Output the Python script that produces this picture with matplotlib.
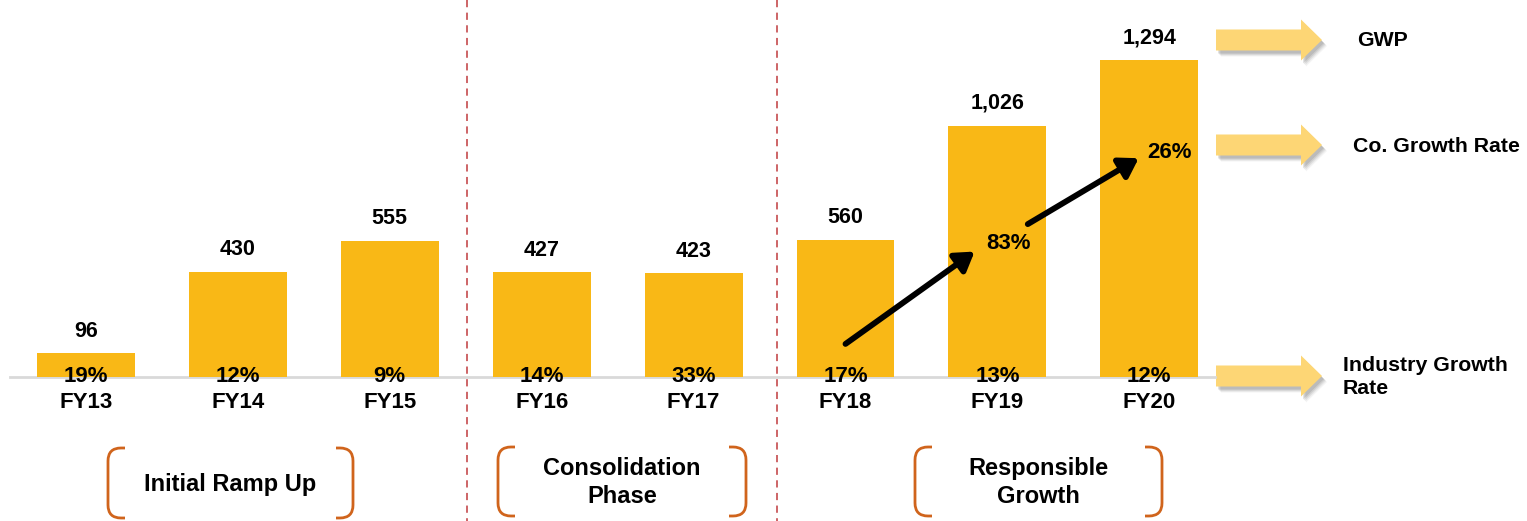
import matplotlib
matplotlib.use('Agg')
from matplotlib import pyplot as plt
from matplotlib.patches import Polygon
from matplotlib.path import Path
from matplotlib.patches import PathPatch

plt.rcParams['font.family'] = ['Liberation Sans', 'DejaVu Sans']
plt.rcParams['font.weight'] = 'bold'

# GWP by fiscal year, with industry and company growth rates
years = ['FY13', 'FY14', 'FY15', 'FY16', 'FY17', 'FY18', 'FY19', 'FY20']
gwp = [96, 430, 555, 427, 423, 560, 1026, 1294]
industry_growth = [19, 12, 9, 14, 33, 17, 13, 12]
co_growth_years = ['FY19', 'FY20']
co_growth = [83, 26]

phases = ['Initial Ramp Up', 'Consolidation\nPhase', 'Responsible\nGrowth']
legend_labels = ['GWP', 'Co. Growth Rate', 'Industry Growth\nRate']

BAR = '#F9B816'
ARROW_FILL = '#FDD675'
BRACKET = '#D0641C'
DIVIDER = '#C9585A'

W, H = 1527, 521
fig = plt.figure(figsize=(W / 100, H / 100), dpi=100)

# pixel-space layer for dividers, brackets and the legend arrows
deco = fig.add_axes([0, 0, 1, 1])
deco.set_xlim(0, W)
deco.set_ylim(H, 0)
deco.axis('off')

# data layer: bar centres 151.9 px apart, baseline at y=377 px, 0.245 px per unit
ax = fig.add_axes([0, 0, 1, 1])
ax.patch.set_alpha(0)
step, x0, base, scale = 151.9, 86, 377, 0.245
ax.set_xlim(-x0 / step, (W - x0) / step)
ax.set_ylim(-(H - base) / scale, base / scale)
ax.axis('off')

xs = list(range(len(years)))
ax.bar(xs, gwp, width=0.645, color=BAR, zorder=2)
ax.plot([(10 - x0) / step, (1215 - x0) / step], [0, 0], color='#D9D9D9', lw=2, zorder=1)

for x, v, g, yr in zip(xs, gwp, industry_growth, years):
    ax.annotate(f'{v:,}', (x, v), xytext=(0, 16), textcoords='offset points',
                ha='center', va='center', fontsize=15.5, fontweight='bold', zorder=4)
    ax.annotate(f'{g}%', (x, 0), xytext=(0, 0), textcoords='offset points',
                ha='center', va='center', fontsize=16, fontweight='bold', zorder=4)
    ax.annotate(yr, (x, 0), xytext=(0, -18), textcoords='offset points',
                ha='center', va='center', fontsize=16, fontweight='bold', zorder=4)

# company growth rates along a rising arrow
co_idx = [years.index(y) for y in co_growth_years]
label_pos = [(co_idx[0] + 0.07, 543), (co_idx[1] + 0.13, 918)]
for (lx, ly), c in zip(label_pos, co_growth):
    ax.text(lx, ly, f'{c}%', ha='center', va='center', fontsize=16,
            fontweight='bold', zorder=5)
arrow_segments = [((5.0, 135), (5.85, 512)), ((6.2, 624), (6.93, 893))]
for (sx, sy), (ex, ey) in arrow_segments:
    ax.annotate('', xy=(ex, ey), xytext=(sx, sy), zorder=5,
                arrowprops=dict(arrowstyle='-|>,head_length=0.55,head_width=0.35',
                                lw=4.2, color='black', mutation_scale=20,
                                shrinkA=0, shrinkB=0))

# phase dividers
for dx in (467, 777):
    deco.plot([dx, dx], [0, H], color=DIVIDER, lw=1.3, ls=(0, (4, 3)))


def bracket(x, y0, y1, side, r=13, tick=4):
    # rounded "(" or ")" shape; side=+1 opens right, -1 opens left
    ex = x + side * (r + tick)
    verts = [(ex, y0), (x + side * r, y0), (x, y0), (x, y0 + r),
             (x, y1 - r), (x, y1), (x + side * r, y1), (ex, y1)]
    codes = [Path.MOVETO, Path.LINETO, Path.CURVE3, Path.CURVE3,
             Path.LINETO, Path.CURVE3, Path.CURVE3, Path.LINETO]
    deco.add_patch(PathPatch(Path(verts, codes), fill=False, ec=BRACKET, lw=2))


phase_boxes = [(108, 353, 448, 518), (498, 746, 447, 516), (915, 1162, 447, 516)]
for (l, r, t, b), name in zip(phase_boxes, phases):
    bracket(l, t, b, 1)
    bracket(r, t, b, -1)
    deco.text((l + r) / 2, (t + b) / 2 + 1, name, ha='center', va='center',
              fontsize=17, fontweight='bold', linespacing=1.25)


def block_arrow(x0_, x1_, xt, yc, body, head):
    pts = [(x0_, yc - body / 2), (x1_, yc - body / 2), (x1_, yc - head / 2),
           (xt, yc), (x1_, yc + head / 2), (x1_, yc + body / 2), (x0_, yc + body / 2)]
    # soft drop shadow, offset down and to the right
    for dx, dy, a in ((5, 6, 0.08), (4, 5, 0.12), (3, 4, 0.16), (2, 3, 0.2)):
        sh = [(px + dx, py + dy) for px, py in pts]
        deco.add_patch(Polygon(sh, closed=True, fc='#6E6E6E', ec='none', alpha=a))
    deco.add_patch(Polygon(pts, closed=True, fc=ARROW_FILL, ec='none'))


legend_rows = [(40, 1357), (145, 1353), (376, 1343)]
for (yc, tx), lab in zip(legend_rows, legend_labels):
    block_arrow(1216, 1301, 1322, yc, 21, 41)
    deco.text(tx, yc + 1, lab, ha='left', va='center',
              fontsize=15.3, fontweight='bold', linespacing=1.3)

fig.savefig('out.png', dpi=100)
